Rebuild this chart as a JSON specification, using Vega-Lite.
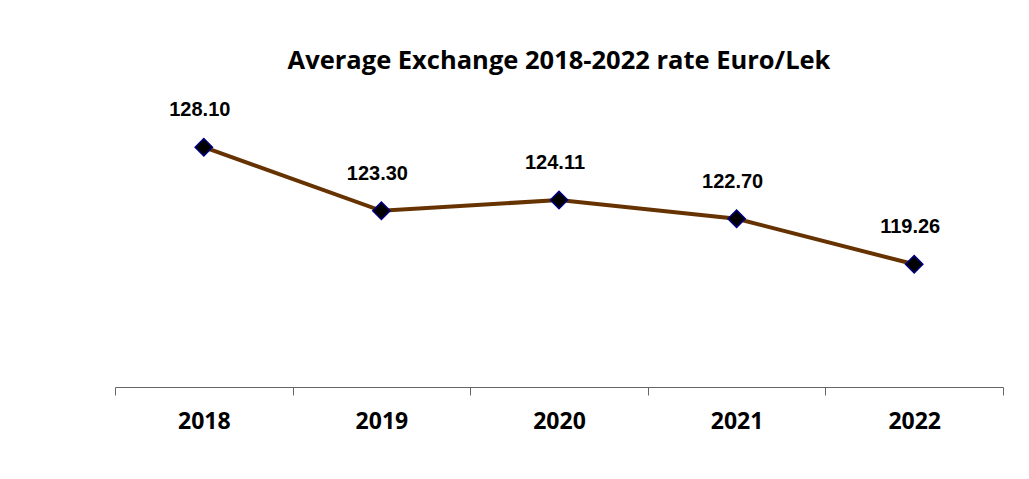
{
  "$schema": "https://vega.github.io/schema/vega-lite/v6.json",
  "width": 888,
  "height": 265,
  "autosize": "none",
  "padding": {"left": 115, "top": 122, "right": 26, "bottom": 92},
  "background": "white",
  "config": {"view": {"stroke": null}},
  "title": {
    "text": "Average Exchange 2018-2022 rate  Euro/Lek",
    "font": "Open Sans",
    "fontSize": 25.5,
    "fontWeight": "bold",
    "color": "black",
    "anchor": "middle",
    "frame": "group",
    "baseline": "alphabetic",
    "offset": 6
  },
  "data": {
    "values": [
      {"year": "2018", "rate": 128.10, "label": "128.10"},
      {"year": "2019", "rate": 123.30, "label": "123.30"},
      {"year": "2020", "rate": 124.11, "label": "124.11"},
      {"year": "2021", "rate": 122.70, "label": "122.70"},
      {"year": "2022", "rate": 119.26, "label": "119.26"}
    ]
  },
  "encoding": {
    "x": {
      "field": "year",
      "type": "ordinal",
      "scale": {"paddingInner": 0, "paddingOuter": 0},
      "axis": {
        "title": null,
        "labelAngle": 0,
        "labelFont": "Open Sans",
        "labelFontSize": 23,
        "labelFontWeight": "bold",
        "labelColor": "black",
        "labelBaseline": "alphabetic",
        "labelPadding": 33,
        "tickBand": "extent",
        "tickSize": 8,
        "tickColor": "#666666",
        "domainColor": "#666666",
        "grid": false
      }
    },
    "y": {
      "field": "rate",
      "type": "quantitative",
      "scale": {"domain": [110, 130], "zero": false},
      "axis": null
    }
  },
  "layer": [
    {
      "mark": {"type": "line", "color": "#663300", "strokeWidth": 4}
    },
    {
      "mark": {"type": "point", "shape": "diamond", "size": 300, "filled": true, "fill": "black", "stroke": "#000080", "strokeWidth": 1.5, "opacity": 1}
    },
    {
      "mark": {"type": "text", "font": "Liberation Sans", "fontSize": 20, "fontWeight": "bold", "color": "black", "baseline": "alphabetic", "dy": -31, "dx": -4},
      "encoding": {"text": {"field": "label"}}
    }
  ]
}
